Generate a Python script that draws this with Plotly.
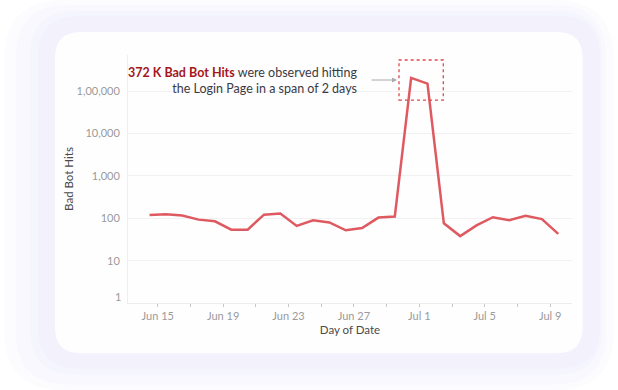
import plotly.graph_objects as go
import pandas as pd

dates = pd.date_range("2022-06-14", "2022-07-09", freq="D")
hits = [120, 124, 116, 93, 85, 54, 54, 122, 129, 66, 90, 80, 52, 59, 104, 110,
        207000, 152000, 76, 38, 68, 106, 90, 114, 96, 43]
y_tickvals = [10, 100, 1000, 10000, 100000]
y_ticktext = ["10", "100", "1,000", "10,000", "1,00,000"]
x_tickvals = pd.date_range("2022-06-15", "2022-07-09", freq="4D")
x_ticktext = [d.strftime("%b ") + str(d.day) for d in x_tickvals]

# layout geometry (pixels)
W, H = 618, 390
L, R, T, B = 128, 572, 55, 302.7
def px2p(x, y):
    return (x - L) / (R - L), (B - y) / (B - T)

def rrect(x0, y0, x1, y1, r):
    def P(x, y):
        a, b = px2p(x, y)
        return f"{a:.5f},{b:.5f}"
    s = f"M {P(x0 + r, y0)} L {P(x1 - r, y0)} Q {P(x1, y0)} {P(x1, y0 + r)} "
    s += f"L {P(x1, y1 - r)} Q {P(x1, y1)} {P(x1 - r, y1)} "
    s += f"L {P(x0 + r, y1)} Q {P(x0, y1)} {P(x0, y1 - r)} "
    s += f"L {P(x0, y0 + r)} Q {P(x0, y0)} {P(x0 + r, y0)} Z"
    return s

shapes = []
for (x0, y0, x1, y1, r, c) in [
    (4, 0, 614, 390, 60, "#fcfcff"),
    (16, 5, 606, 384, 52, "#f8f8fe"),
    (30, 11, 602, 374, 45, "#f5f5fd"),
    (38, 16, 600, 368, 40, "#f3f2fc"),
    (55, 32, 582.6, 353, 26, "#fefeff"),
]:
    shapes.append(dict(type="path", path=rrect(x0, y0, x1, y1, r), xref="paper", yref="paper",
                       fillcolor=c, line=dict(width=0), layer="below"))

# dashed highlight box around the peak
bx0, by0 = px2p(399, 60)
bx1, by1 = px2p(443.3, 100)
shapes.append(dict(type="rect", xref="paper", yref="paper", x0=bx0, x1=bx1, y0=by1, y1=by0,
                   line=dict(color="#e0474c", width=1.3, dash="dot"), fillcolor="rgba(0,0,0,0)"))

fig = go.Figure()
fig.add_trace(go.Scatter(
    x=dates + pd.Timedelta(hours=12), y=hits, mode="lines",
    line=dict(color="#df5a60", width=2.5), hoverinfo="skip"))

font = "Lato"
tx, ty = px2p(359, 80)
ax_, ay_ = px2p(397, 80)
one_x, one_y = px2p(123, 296)
annotations = [
    dict(xref="paper", yref="paper", x=tx, y=ty, xanchor="right", yanchor="middle", align="right",
         showarrow=False,
         text="<b><span style='color:#a3171c'>372 K Bad Bot Hits</span></b> were observed hitting<br>the Login Page in a span of 2 days",
         font=dict(family=font, size=12.5, color="#3b3b45")),
    dict(xref="paper", yref="paper", x=ax_, y=ay_, ax=-27, ay=0, text="", showarrow=True,
         arrowhead=2, arrowsize=1, arrowwidth=1, arrowcolor="#aaaaaa"),
    dict(xref="paper", yref="paper", x=one_x, y=one_y, xanchor="right", yanchor="middle",
         showarrow=False, text="1", font=dict(family=font, size=11, color="#9a9a9a")),
]

fig.update_layout(
    width=W, height=H,
    margin=dict(l=L, r=W - R, t=T, b=H - B),
    paper_bgcolor="white", plot_bgcolor="rgba(0,0,0,0)",
    showlegend=False, shapes=shapes, annotations=annotations,
    font=dict(family=font),
    xaxis=dict(
        type="date", range=["2022-06-13 04:20", "2022-07-10 08:10"],
        tickvals=list(x_tickvals), ticktext=x_ticktext,
        tickfont=dict(size=11, color="#9a9a9a"),
        showgrid=False, showline=True, linecolor="#ececec", linewidth=1,
        ticks="outside", ticklen=3, tickcolor="#c8c8c8",
        minor=dict(dtick=2 * 86400000, tick0="2022-06-15", ticks="outside", ticklen=3,
                   tickcolor="#c8c8c8", showgrid=False),
        title=dict(text="Day of Date", font=dict(size=11.5, color="#4a4a4a"), standoff=4),
        zeroline=False,
    ),
    yaxis=dict(
        type="log", range=[0, 5.856],
        tickvals=y_tickvals, ticktext=y_ticktext,
        tickfont=dict(size=11, color="#9a9a9a"),
        showgrid=True, gridcolor="#f1f1f1", gridwidth=1,
        showline=True, linecolor="#efefef", linewidth=1,
        ticks="", ticklabelstandoff=5,
        title=dict(text="Bad Bot Hits", font=dict(size=11.5, color="#4a4a4a"), standoff=0),
        zeroline=False,
    ),
)

fig.write_html("out.html", config={"displayModeBar": False},
               post_script="document.body.style.margin='0';")
